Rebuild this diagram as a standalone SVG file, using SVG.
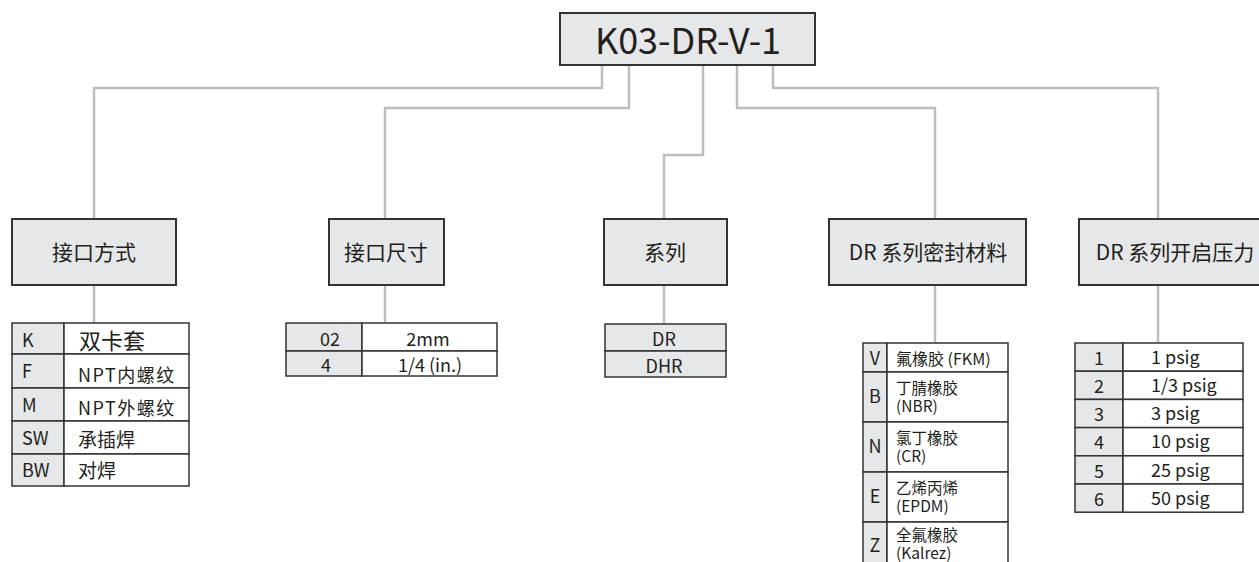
<svg xmlns="http://www.w3.org/2000/svg" width="1259" height="562" viewBox="0 0 1259 562">
<style>
.box{fill:#e6e7e8;stroke:#333;stroke-width:2}
.cellg{fill:#e6e7e8;stroke:#333;stroke-width:1.5}
.cellw{fill:#fff;stroke:#333;stroke-width:1.5}
.conn{fill:none;stroke:#bcbec0;stroke-width:2.5}
text{font-family:"Noto Sans CJK SC","Noto Sans",sans-serif;fill:#231f20}
.lbl{font-size:21px;text-anchor:middle}
.t{font-size:18px}
.c{text-anchor:middle}
.m{font-size:16px}
.m2{font-size:15.5px}
</style>
<rect width="1259" height="562" fill="#fff"/>
<g id="connectors">
<path class="conn" d="M602,65 V88 H94 V219"/>
<path class="conn" d="M629,65 V108 H385 V219"/>
<path class="conn" d="M703,65 V155 H664 V219"/>
<path class="conn" d="M737,65 V108 H935 V219"/>
<path class="conn" d="M773,65 V88 H1158 V219"/>
<path class="conn" d="M94,285 V323"/>
<path class="conn" d="M385,285 V323"/>
<path class="conn" d="M664,285 V324"/>
<path class="conn" d="M935,285 V343"/>
<path class="conn" d="M1158,285 V343"/>
</g>
<g id="root">
<rect class="box" x="560" y="13" width="255" height="52"/>
<text x="688" y="54" style="font-size:36px;text-anchor:middle">K03-DR-V-1</text>
</g>
<g id="node-jiekoufangshi">
<rect class="box" x="12" y="219" width="164" height="66"/>
<text class="lbl" x="94" y="260">接口方式</text>
</g>
<g id="node-jiekouchicun">
<rect class="box" x="329" y="219" width="115" height="66"/>
<text class="lbl" x="386" y="260">接口尺寸</text>
</g>
<g id="node-xilie">
<rect class="box" x="604" y="219" width="123" height="66"/>
<text class="lbl" x="665" y="260">系列</text>
</g>
<g id="node-seal">
<rect class="box" x="829" y="219" width="197" height="66"/>
<text class="lbl" x="928" y="260">DR 系列密封材料</text>
</g>
<g id="node-pressure">
<rect class="box" x="1079" y="219" width="196" height="66"/>
<text class="lbl" x="1175" y="260">DR 系列开启压力</text>
</g>
<g id="table-jiekoufangshi">
<rect class="cellg" x="12" y="323" width="52" height="31"/><rect class="cellw" x="64" y="323" width="125" height="31"/>
<rect class="cellg" x="12" y="354" width="52" height="34"/><rect class="cellw" x="64" y="354" width="125" height="34"/>
<rect class="cellg" x="12" y="388" width="52" height="33"/><rect class="cellw" x="64" y="388" width="125" height="33"/>
<rect class="cellg" x="12" y="421" width="52" height="33"/><rect class="cellw" x="64" y="421" width="125" height="33"/>
<rect class="cellg" x="12" y="454" width="52" height="32"/><rect class="cellw" x="64" y="454" width="125" height="32"/>
<text class="t" x="22" y="347">K</text><text x="79" y="349" style="font-size:22px">双卡套</text>
<text class="t" x="22" y="378">F</text><text x="78" y="382" style="font-size:18px;letter-spacing:1.5px">NPT内螺纹</text>
<text class="t" x="22" y="412">M</text><text x="78" y="415" style="font-size:18px;letter-spacing:1.5px">NPT外螺纹</text>
<text class="t" x="22" y="445">SW</text><text x="78" y="447" style="font-size:19px">承插焊</text>
<text class="t" x="22" y="477">BW</text><text x="78" y="478" style="font-size:19px">对焊</text>
</g>
<g id="table-jiekouchicun">
<rect class="cellg" x="286" y="323" width="76" height="28"/><rect class="cellw" x="362" y="323" width="135" height="28"/>
<rect class="cellg" x="286" y="351" width="76" height="25"/><rect class="cellw" x="362" y="351" width="135" height="25"/>
<text class="t c" x="330" y="346">02</text><text class="t c" x="428" y="346">2mm</text>
<text class="t c" x="326" y="372">4</text><text class="t c" x="430" y="372">1/4 (in.)</text>
</g>
<g id="table-xilie">
<rect class="cellg" x="605" y="324" width="121" height="27"/>
<rect class="cellg" x="605" y="351" width="121" height="26"/>
<text class="t c" x="664" y="346">DR</text>
<text class="t c" x="664" y="373">DHR</text>
</g>
<g id="table-seal">
<rect class="cellg" x="863" y="343" width="24" height="29"/><rect class="cellw" x="887" y="343" width="121" height="29"/>
<rect class="cellg" x="863" y="372" width="24" height="50"/><rect class="cellw" x="887" y="372" width="121" height="50"/>
<rect class="cellg" x="863" y="422" width="24" height="50"/><rect class="cellw" x="887" y="422" width="121" height="50"/>
<rect class="cellg" x="863" y="472" width="24" height="50"/><rect class="cellw" x="887" y="472" width="121" height="50"/>
<rect class="cellg" x="863" y="522" width="24" height="50"/><rect class="cellw" x="887" y="522" width="121" height="50"/>
<text class="t c" x="875" y="365">V</text><text class="m" x="896" y="365">氟橡胶 (FKM)</text>
<text class="t c" x="875" y="403">B</text><text class="m2" x="896" y="394">丁腈橡胶<tspan x="896" dy="18">(NBR)</tspan></text>
<text class="t c" x="875" y="453">N</text><text class="m2" x="896" y="444">氯丁橡胶<tspan x="896" dy="18">(CR)</tspan></text>
<text class="t c" x="875" y="503">E</text><text class="m2" x="896" y="494">乙烯丙烯<tspan x="896" dy="18">(EPDM)</tspan></text>
<text class="t c" x="875" y="552">Z</text><text class="m2" x="896" y="541">全氟橡胶<tspan x="896" dy="17.5">(Kalrez)</tspan></text>
</g>
<g id="table-pressure">
<rect class="cellg" x="1075" y="343" width="48" height="28.2"/><rect class="cellw" x="1123" y="343" width="120" height="28.2"/>
<rect class="cellg" x="1075" y="371.2" width="48" height="28.2"/><rect class="cellw" x="1123" y="371.2" width="120" height="28.2"/>
<rect class="cellg" x="1075" y="399.4" width="48" height="28.2"/><rect class="cellw" x="1123" y="399.4" width="120" height="28.2"/>
<rect class="cellg" x="1075" y="427.6" width="48" height="28.2"/><rect class="cellw" x="1123" y="427.6" width="120" height="28.2"/>
<rect class="cellg" x="1075" y="455.8" width="48" height="28.2"/><rect class="cellw" x="1123" y="455.8" width="120" height="28.2"/>
<rect class="cellg" x="1075" y="484" width="48" height="28.2"/><rect class="cellw" x="1123" y="484" width="120" height="28.2"/>
<text class="t c" x="1099" y="365">1</text><text class="t" x="1151" y="364">1 psig</text>
<text class="t c" x="1099" y="393">2</text><text class="t" x="1151" y="392">1/3 psig</text>
<text class="t c" x="1099" y="421">3</text><text class="t" x="1151" y="420">3 psig</text>
<text class="t c" x="1099" y="449">4</text><text class="t" x="1151" y="448">10 psig</text>
<text class="t c" x="1099" y="478">5</text><text class="t" x="1151" y="477">25 psig</text>
<text class="t c" x="1099" y="506">6</text><text class="t" x="1151" y="505">50 psig</text>
</g>
</svg>
